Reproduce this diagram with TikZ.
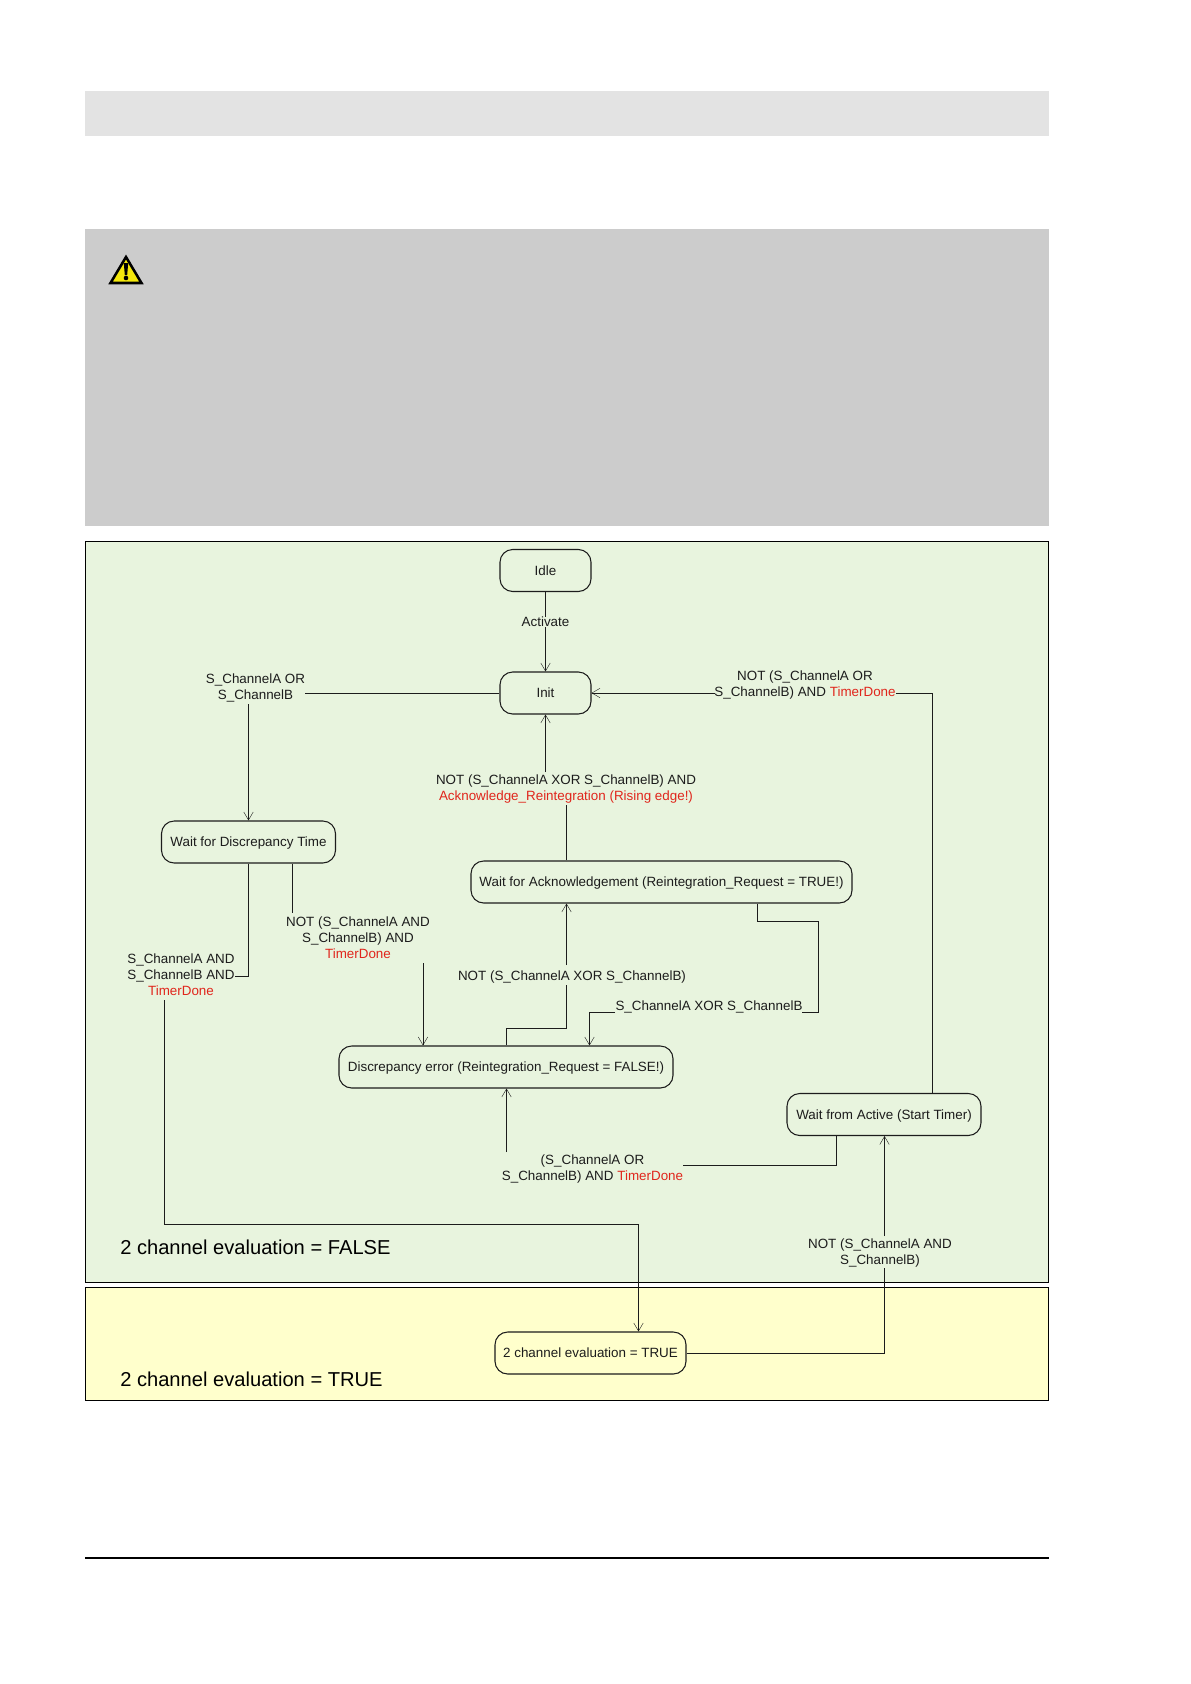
\documentclass[tikz,border=0pt]{standalone}
\usepackage{fontspec}
\setmainfont{Liberation Sans}
\usetikzlibrary{arrows.meta}
\definecolor{panelgreen}{HTML}{E8F4DE}
\definecolor{panelyellow}{HTML}{FFFFCC}
\definecolor{alertred}{HTML}{E0261C}
\definecolor{inkline}{HTML}{1C1C1C}
\newcommand{\us}{\_}
\newcommand{\td}{\textcolor{alertred}{TimerDone}}
\tikzset{
  band/.style={draw=none,minimum width=964*.75pt,anchor=north west,inner sep=0},
  panel/.style={draw=black,line width=.9pt,minimum width=963*.75pt,anchor=north west,inner sep=0},
  statebox/.style={draw=inkline,line width=.8pt,rounded corners=9.5pt,minimum height=31.5pt,inner sep=0,text height=8.2pt,text depth=.8pt,font=\fontsize{10.05}{12}\selectfont,text=inkline},
  lab/.style={inner sep=0,align=center,yshift=-1.1pt,font=\fontsize{10.05}{12}\selectfont,text=inkline},
  biglab/.style={inner sep=0,anchor=west,font=\fontsize{15.1}{17}\selectfont,text=black},
  conn/.style={draw=inkline,line width=.75pt},
  arr/.style={conn,-{Straight Barb[length=6pt,width=7pt,line width=.3pt]}}
}
\begin{document}
\begin{tikzpicture}[x=.75pt,y=-.75pt]
\useasboundingbox (0,0) rectangle (1191,1684);
% bands
\node[band,fill=black!11,minimum height=45*.75pt] (header) at (85,91) {};
\node[band,fill=black!20,minimum height=297*.75pt] (warnband) at (85,229) {};
\node[panel,fill=panelgreen,minimum height=741*.75pt] (greenpanel) at (85,541) {};
\node[panel,fill=panelyellow,minimum height=113*.75pt] (yellowpanel) at (85,1287) {};
% warning sign
\draw[fill=yellow!95!black,draw=black,line width=1.9pt,line join=miter] (126,257) -- (141.5,283) -- (110.5,283) -- cycle;
\fill[black] (123.8,263) -- (128.2,263) -- (127.2,275) -- (124.8,275) -- cycle;
\fill[black] (126,278) circle[radius=2.3];
% bottom rule
\coordinate (ruleL) at (85,1558);
\coordinate (ruleR) at (1049,1558);
\draw[black,line width=.9pt] (ruleL) -- (ruleR);
% states
\node[statebox,minimum width=91*.75pt] (idle) at (545.5,570.5) {Idle};
\node[statebox,minimum width=91*.75pt] (init) at (545.5,693) {Init};
\node[statebox,minimum width=174*.75pt] (wdt) at (248.5,842) {Wait for Discrepancy Time};
\node[statebox,minimum width=381*.75pt] (wack) at (661.5,882) {Wait for Acknowledgement (Reintegration\us Request = TRUE!)};
\node[statebox,minimum width=334*.75pt] (derr) at (506,1067) {Discrepancy error (Reintegration\us Request = FALSE!)};
\node[statebox,minimum width=194*.75pt] (wfa) at (884,1114.5) {Wait from Active (Start Timer)};
\node[statebox,minimum width=191*.75pt] (tce) at (590.5,1353) {2 channel evaluation = TRUE};
% labels
\node[lab] (lActivate) at (545.5,620.5) {Activate};
\node[lab] (lOr) at (255.5,687) {S\us ChannelA OR\\S\us ChannelB};
\node[lab] (lNotOr) at (805,683.5) {NOT (S\us ChannelA OR\\S\us ChannelB) AND \td};
\node[lab] (lAck) at (566,788) {NOT (S\us ChannelA XOR S\us ChannelB) AND\\\textcolor{alertred}{Acknowledge\us Reintegration (Rising edge!)}};
\node[lab] (lNotAnd) at (358,936.5) {NOT (S\us ChannelA AND\\S\us ChannelB) AND\\\td};
\node[lab] (lAnd) at (181,973.5) {S\us ChannelA AND\\S\us ChannelB AND\\\td};
\node[lab] (lNotXor) at (572,975.5) {NOT (S\us ChannelA XOR S\us ChannelB)};
\node[lab] (lXor) at (709,1005) {S\us ChannelA XOR S\us ChannelB};
\node[lab] (lOrTd) at (592.5,1168) {(S\us ChannelA OR\\S\us ChannelB) AND \td};
\node[lab] (lNotAnd2) at (880,1252) {NOT (S\us ChannelA AND\\S\us ChannelB)};
\node[biglab] (fls) at (120,1247) {2 channel evaluation = FALSE};
\node[biglab] (tru) at (120,1379) {2 channel evaluation = TRUE};
% helper lines
\coordinate (xA) at (248.5,0);
\coordinate (xB) at (292,0);
\coordinate (xC) at (423,0);
\coordinate (xD) at (164,0);
\coordinate (xE) at (638.5,0);
\coordinate (xF) at (566.5,0);
\coordinate (xG) at (506.5,0);
\coordinate (xH) at (757,0);
\coordinate (xI) at (818,0);
\coordinate (xJ) at (589.5,0);
\coordinate (xK) at (932,0);
\coordinate (xL) at (836,0);
\coordinate (xM) at (884.5,0);
\coordinate (yA) at (0,976);
\coordinate (yB) at (0,1224.5);
\coordinate (yC) at (0,1028.5);
\coordinate (yD) at (0,921.5);
\coordinate (yE) at (0,1012);
\coordinate (yF) at (0,1165);
\coordinate (pOrR) at (305,693);
\coordinate (pOrB) at (248.5,704);
\coordinate (pNotOrL) at (715,693);
\coordinate (pNotOrR) at (896,693);
\coordinate (pAckT) at (545.5,772);
\coordinate (pAckB) at (566.5,805);
\coordinate (pNaT) at (292,913);
\coordinate (pNaB) at (423,963);
\coordinate (pAndR) at (235,976);
\coordinate (pAndB) at (164,1000);
\coordinate (pNxB) at (566.5,985);
\coordinate (pNxT) at (566.5,965);
\coordinate (pXorR) at (802,1012);
\coordinate (pXorL) at (615,1012);
\coordinate (pOrTdT) at (506.5,1152);
\coordinate (pOrTdR) at (683,1165);
\coordinate (pNa2T) at (884.5,1236);
\coordinate (pNa2B) at (884.5,1268);
% connectors
\draw[conn] (idle) -- (lActivate);
\draw[arr] (lActivate) -- (init);
\draw[conn] (init) -- (pOrR);
\draw[arr] (pOrB) -- (wdt.north -| xA);
\draw[arr] (pAckT) -- (init.south);
\draw[conn] (wack.north -| xF) -- (pAckB);
\draw[arr] (pNotOrL) -- (init.east);
\draw[conn] (wfa.north -| xK) -- (pNotOrR -| xK) -- (pNotOrR);
\draw[conn] (wdt.south -| xA) -- (xA |- yA) -- (pAndR);
\draw[conn] (wdt.south -| xB) -- (pNaT);
\draw[arr] (pNaB) -- (derr.north -| xC);
\draw[conn] (pAndB) -- (xD |- yB) -- (xE |- yB);
\draw[arr] (xE |- yB) -- (tce.north -| xE);
\draw[conn] (derr.north -| xG) -- (xG |- yC) -- (xF |- yC) -- (pNxB);
\draw[arr] (pNxT) -- (wack.south -| xF);
\draw[conn] (wack.south -| xH) -- (xH |- yD) -- (xI |- yD) -- (xI |- yE) -- (pXorR);
\draw[conn] (pXorL) -- (xJ |- yE);
\draw[arr] (xJ |- yE) -- (derr.north -| xJ);
\draw[arr] (pOrTdT) -- (derr.south -| xG);
\draw[conn] (wfa.south -| xL) -- (xL |- yF) -- (pOrTdR);
\draw[conn] (tce.east) -- (xM |- tce.east) -- (pNa2B);
\draw[arr] (pNa2T) -- (wfa.south -| xM);
\end{tikzpicture}
\end{document}
